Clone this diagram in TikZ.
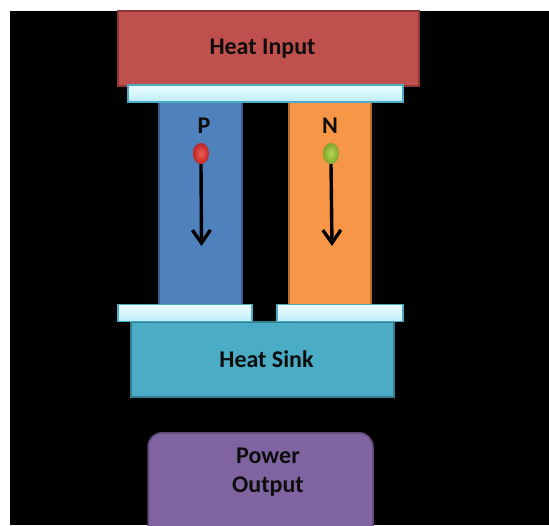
\documentclass[tikz,border=0pt]{standalone}
\usepackage{fontspec}
\setmainfont{Carlito}
\usepackage{xcolor}
\definecolor{heatred}{RGB}{192,80,77}
\definecolor{heatredline}{RGB}{140,56,54}
\definecolor{platetop}{RGB}{236,251,254}
\definecolor{platebot}{RGB}{190,237,250}
\definecolor{plateline}{RGB}{75,172,198}
\definecolor{ptype}{RGB}{79,129,189}
\definecolor{ptypeline}{RGB}{56,93,138}
\definecolor{ntype}{RGB}{247,150,70}
\definecolor{ntypeline}{RGB}{182,109,49}
\definecolor{sinkblue}{RGB}{75,172,198}
\definecolor{sinkline}{RGB}{53,125,145}
\definecolor{powerpurple}{RGB}{128,100,162}
\definecolor{powerline}{RGB}{92,71,118}
\definecolor{holein}{RGB}{238,95,85}
\definecolor{holeout}{RGB}{190,35,35}
\definecolor{elecin}{RGB}{185,215,90}
\definecolor{elecout}{RGB}{125,165,40}
\usepackage{tikz}
\usetikzlibrary{arrows.meta, calc, shapes.geometric}

\begin{document}
\begin{tikzpicture}[x=1pt, y=-1pt,
    txt/.style={font=\fontsize{24}{29}\selectfont\bfseries, text=black!95},
    blk/.style={draw, line width=1.5pt, inner sep=0pt},
    plate/.style={draw=plateline, line width=1.5pt, top color=platetop, bottom color=platebot, minimum height=17pt, inner sep=0pt},
    carrier/.style={ellipse, inner sep=0pt, minimum width=16pt, minimum height=21pt, shading=radial},
    flow/.style={line width=3.4pt, -{Straight Barb[length=13pt,width=18pt]}}]
  \useasboundingbox (0,0) rectangle (549,525);
  \clip (0,0) rectangle (549,525);
  \fill[black] (9.5,11) rectangle (549,525);
  % hot side
  \node[blk, fill=heatred, draw=heatredline, minimum width=301pt, minimum height=75pt,
    label={[txt, xshift=-6pt]center:Heat Input}] (hot) at (268.5,48.5) {};
  \node[blk, fill=ptype, draw=ptypeline, minimum width=83pt, minimum height=202pt, anchor=north] (pleg) at (200.5,101.5) {};
  \node[blk, fill=ntype, draw=ntypeline, minimum width=82pt, minimum height=202pt, anchor=north] (nleg) at (330,101.5) {};
  \node[plate, minimum width=275pt] (hotplate) at (265.5,93.5) {};
  \node[txt] (plbl) at (204,126) {P};
  \node[txt] (nlbl) at (330,126) {N};
  % carriers
  \node[carrier, inner color=holein, outer color=holeout] (hole) at (201,153.5) {};
  \node[carrier, inner color=elecin, outer color=elecout] (elec) at (331,153.5) {};
  \coordinate (pend) at (201.5,246);
  \coordinate (nend) at (332,246);
  \draw[flow] (hole.south) -- (pend);
  \draw[flow] (elec.south) -- (nend);
  % cold side
  \node[blk, fill=sinkblue, draw=sinkline, minimum width=263pt, minimum height=75pt,
    label={[txt, xshift=4pt]center:Heat Sink}] (sink) at (262.5,359.5) {};
  \node[plate, minimum width=134pt] (pplate) at (185,313) {};
  \node[plate, minimum width=126pt] (nplate) at (340,313) {};
  % output
  \node[blk, fill=powerpurple, draw=powerline, rounded corners=14pt, minimum width=225pt, minimum height=120pt, anchor=north] (power) at (260.5,432) {};
  \node[txt, align=center] (powerlbl) at (268,472.5) {Power\\Output};
\end{tikzpicture}
\end{document}
